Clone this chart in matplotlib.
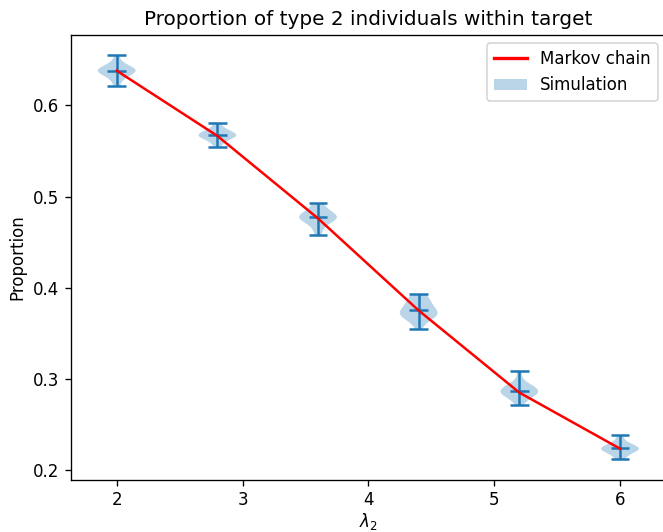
import matplotlib
matplotlib.use("Agg")
import matplotlib.pyplot as plt
from matplotlib.patches import Patch

lambda2 = [2.0, 2.8, 3.6, 4.4, 5.2, 6.0]
markov = [0.638, 0.5665, 0.476, 0.375, 0.285, 0.2235]

sim_1 = [0.621, 0.628, 0.632, 0.634, 0.636, 0.637, 0.638, 0.638, 0.639, 0.640, 0.641, 0.643, 0.646, 0.655]
sim_2 = [0.554, 0.560, 0.563, 0.565, 0.566, 0.567, 0.567, 0.568, 0.569, 0.570, 0.572, 0.575, 0.581]
sim_3 = [0.458, 0.466, 0.471, 0.474, 0.476, 0.477, 0.477, 0.478, 0.479, 0.481, 0.484, 0.488, 0.493]
sim_4 = [0.355, 0.364, 0.367, 0.369, 0.370, 0.371, 0.372, 0.374, 0.376, 0.378, 0.381, 0.384, 0.387, 0.390, 0.393]
sim_5 = [0.271, 0.278, 0.280, 0.282, 0.284, 0.285, 0.286, 0.287, 0.288, 0.289, 0.291, 0.293, 0.296, 0.3085]
sim_6 = [0.2117, 0.216, 0.219, 0.221, 0.222, 0.223, 0.2235, 0.224, 0.225, 0.226, 0.228, 0.231, 0.238]
simulations = [sim_1, sim_2, sim_3, sim_4, sim_5, sim_6]

DPI = 120
W, H = 663, 532
fig = plt.figure(figsize=(W / DPI, H / DPI), dpi=DPI)
left, right, top, bottom = 70.8, 665.9, 35.0, 479.6
ax = fig.add_axes([left / W, 1 - bottom / H, (right - left) / W, (bottom - top) / H])

ax.violinplot(simulations, positions=lambda2, widths=0.3, showmeans=True, showextrema=True)
ax.plot(lambda2, markov, color="red", label="Markov chain")

handles = [plt.Line2D([], [], color="red", lw=2), Patch(facecolor="C0", alpha=0.3)]
ax.legend(handles, ["Markov chain", "Simulation"], loc="upper right")
ax.set_title("Proportion of type 2 individuals within target")
ax.set_xlabel(r"$\lambda_2$", labelpad=1.0)
ax.set_ylabel("Proportion")

fig.savefig("out.png", dpi=DPI)
